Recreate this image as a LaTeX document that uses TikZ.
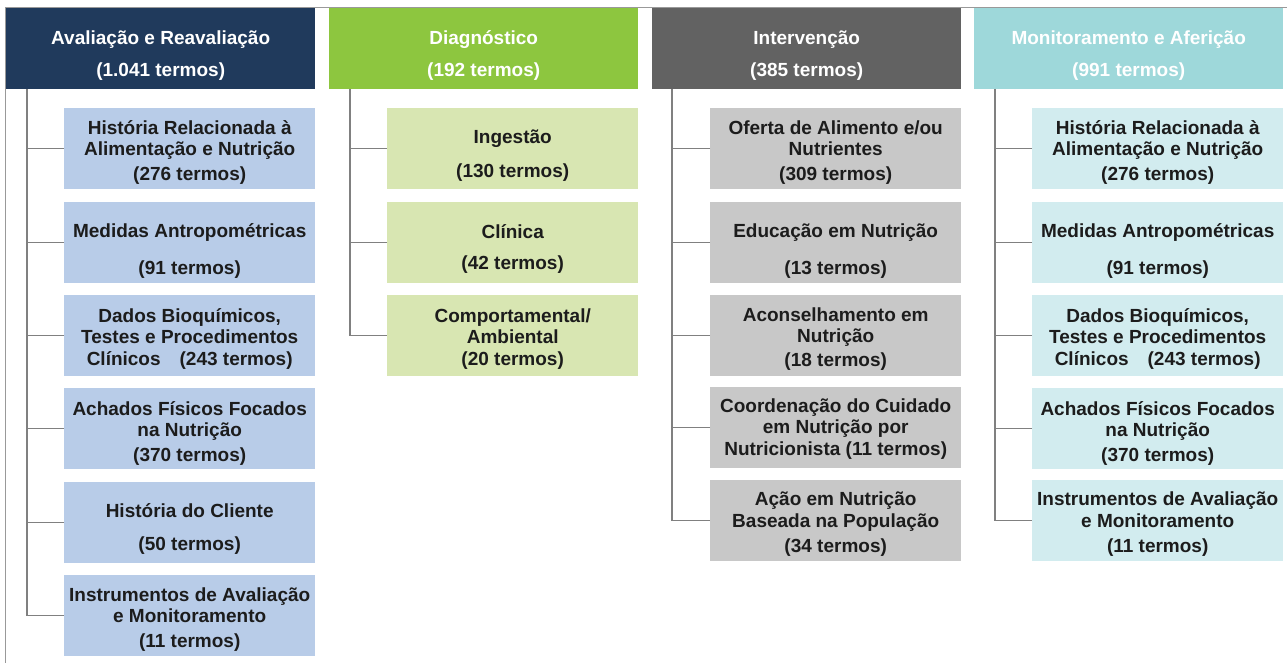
\documentclass[tikz,border=0pt]{standalone}
\usepackage{fontspec}
\setmainfont{Liberation Sans}
\definecolor{navy}{HTML}{203A5C}
\definecolor{grn}{HTML}{8DC63F}
\definecolor{dgr}{HTML}{626262}
\definecolor{teal2}{HTML}{9ED8DA}
\definecolor{lblue}{HTML}{B8CCE8}
\definecolor{lgrn}{HTML}{D8E6B2}
\definecolor{lgray}{HTML}{C8C8C8}
\definecolor{lcyan}{HTML}{D2ECEF}
\definecolor{txt}{HTML}{1C1C1C}
\begin{document}
\begin{tikzpicture}[x=1pt,y=-1pt,
  hdr/.style={anchor=north west, minimum width=309pt, minimum height=81pt, inner sep=0pt},
  hdrtext/.style={text=white, font=\bfseries\fontsize{19}{32}\selectfont, align=center},
  sub/.style={anchor=north west, minimum width=251pt, minimum height=81pt, inner sep=0pt},
  subtext/.style={text=txt, font=\bfseries\fontsize{19}{21.5}\selectfont, align=center, inner sep=0pt},
  conn/.style={draw=black!50, line width=1.1pt},
  frame/.style={draw=black!40, line width=1pt}
]
\useasboundingbox (0,0) rectangle (1287,663);
\coordinate (f0) at (5,663);
\coordinate (f1) at (5,8);
\coordinate (f2) at (1287,8);
\draw[frame] (f0) -- (f1) -- (f2);

% headers
\node[hdr, fill=navy] (h1) at (6,8) {};
\node[hdrtext] (h1t) at ([yshift=-7pt]h1.center) {Avaliação e Reavaliação\\(1.041 termos)};
\node[hdr, fill=grn] (h2) at (329,8) {};
\node[hdrtext] (h2t) at ([yshift=-7pt]h2.center) {Diagnóstico\\(192 termos)};
\node[hdr, fill=dgr] (h3) at (652,8) {};
\node[hdrtext] (h3t) at ([yshift=-7pt]h3.center) {Intervenção\\(385 termos)};
\node[hdr, fill=teal2] (h4) at (974,8) {};
\node[hdrtext] (h4t) at ([yshift=-7pt]h4.center) {Monitoramento e Aferição\\(991 termos)};

% column 1
\node[sub, fill=lblue] (a1) at (64,108) {};
\node[subtext] (a1t) at ([yshift=-4pt]a1.center) {História Relacionada à\\Alimentação e Nutrição\\[3.5pt](276 termos)};
\node[sub, fill=lblue] (a2) at (64,201.5) {};
\node[subtext] (a2t) at ([yshift=-9pt]a2.center) {Medidas Antropométricas\\[15pt](91 termos)};
\node[sub, fill=lblue] (a3) at (64,295) {};
\node[subtext] (a3t) at ([yshift=-3pt]a3.center) {Dados Bioquímicos,\\Testes e Procedimentos\\Clínicos\quad(243 termos)};
\node[sub, fill=lblue] (a4) at (64,388) {};
\node[subtext] (a4t) at ([yshift=-5pt]a4.center) {Achados Físicos Focados\\na Nutrição\\[3.5pt](370 termos)};
\node[sub, fill=lblue] (a5) at (64,481.5) {};
\node[subtext] (a5t) at ([yshift=-7pt]a5.center) {História do Cliente\\[12pt](50 termos)};
\node[sub, fill=lblue] (a6) at (64,575) {};
\node[subtext] (a6t) at ([yshift=-4pt]a6.center) {Instrumentos de Avaliação\\e Monitoramento\\[3.5pt](11 termos)};

% column 2
\node[sub, fill=lgrn] (b1) at (387,108) {};
\node[subtext] (b1t) at ([yshift=-7pt]b1.center) {Ingestão\\[12pt](130 termos)};
\node[sub, fill=lgrn] (b2) at (387,201.5) {};
\node[subtext] (b2t) at ([yshift=-7pt]b2.center) {Clínica\\[10pt](42 termos)};
\node[sub, fill=lgrn] (b3) at (387,295) {};
\node[subtext] (b3t) at ([yshift=-3pt]b3.center) {Comportamental/\\Ambiental\\(20 termos)};

% column 3
\node[sub, fill=lgray] (c1) at (710,108) {};
\node[subtext] (c1t) at ([yshift=-4pt]c1.center) {Oferta de Alimento e/ou\\Nutrientes\\[3.5pt](309 termos)};
\node[sub, fill=lgray] (c2) at (710,201.5) {};
\node[subtext] (c2t) at ([yshift=-9pt]c2.center) {Educação em Nutrição\\[15pt](13 termos)};
\node[sub, fill=lgray] (c3) at (710,295) {};
\node[subtext] (c3t) at ([yshift=-3pt]c3.center) {Aconselhamento em\\Nutrição\\[2pt](18 termos)};
\node[sub, fill=lgray] (c4) at (710,387) {};
\node[subtext] (c4t) at ([yshift=-1pt]c4.center) {Coordenação do Cuidado\\em Nutrição por\\Nutricionista (11 termos)};
\node[sub, fill=lgray] (c5) at (710,479.5) {};
\node[subtext] (c5t) at ([yshift=-4pt]c5.center) {Ação em Nutrição\\Baseada na População\\[3.5pt](34 termos)};

% column 4
\node[sub, fill=lcyan] (d1) at (1032,108) {};
\node[subtext] (d1t) at ([yshift=-4pt]d1.center) {História Relacionada à\\Alimentação e Nutrição\\[3.5pt](276 termos)};
\node[sub, fill=lcyan] (d2) at (1032,201.5) {};
\node[subtext] (d2t) at ([yshift=-9pt]d2.center) {Medidas Antropométricas\\[15pt](91 termos)};
\node[sub, fill=lcyan] (d3) at (1032,295) {};
\node[subtext] (d3t) at ([yshift=-3pt]d3.center) {Dados Bioquímicos,\\Testes e Procedimentos\\Clínicos\quad(243 termos)};
\node[sub, fill=lcyan] (d4) at (1032,388) {};
\node[subtext] (d4t) at ([yshift=-5pt]d4.center) {Achados Físicos Focados\\na Nutrição\\[3.5pt](370 termos)};
\node[sub, fill=lcyan] (d5) at (1032,479.5) {};
\node[subtext] (d5t) at ([yshift=-4pt]d5.center) {Instrumentos de Avaliação\\e Monitoramento\\[3.5pt](11 termos)};

% trunks and branches
\coordinate (t1) at (27,89);
\coordinate (t2) at (350,89);
\coordinate (t3) at (672,89);
\coordinate (t4) at (995,89);
\draw[conn] (t1) |- (a6.west);
\foreach \n in {a1,a2,a3,a4,a5} \draw[conn] (\n.west) -- (\n.west -| t1);
\draw[conn] (t2) |- (b3.west);
\foreach \n in {b1,b2} \draw[conn] (\n.west) -- (\n.west -| t2);
\draw[conn] (t3) |- (c5.west);
\foreach \n in {c1,c2,c3,c4} \draw[conn] (\n.west) -- (\n.west -| t3);
\draw[conn] (t4) |- (d5.west);
\foreach \n in {d1,d2,d3,d4} \draw[conn] (\n.west) -- (\n.west -| t4);
\end{tikzpicture}
\end{document}
